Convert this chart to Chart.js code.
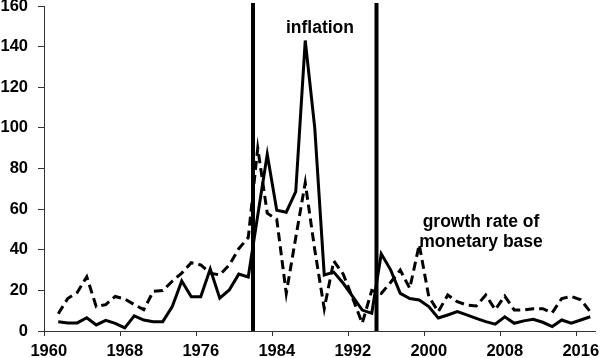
<!DOCTYPE html>
<html>
<head>
<meta charset="utf-8">
<script src="https://cdn.jsdelivr.net/npm/chart.js@4"></script>
<style>
  html, body { margin: 0; padding: 0; background: #fff; }
  canvas { display: block; }
</style>
</head>
<body>
<canvas id="chart" width="600" height="358"></canvas>
<script>
// ---------------------------------------------------------------------------
// Data (annual, %)
// ---------------------------------------------------------------------------
const years = [
  1961, 1962, 1963, 1964, 1965, 1966, 1967, 1968, 1969, 1970,
  1971, 1972, 1973, 1974, 1975, 1976, 1977, 1978, 1979, 1980,
  1981, 1982, 1983, 1984, 1985, 1986, 1987, 1988, 1989, 1990,
  1991, 1992, 1993, 1994, 1995, 1996, 1997, 1998, 1999, 2000,
  2001, 2002, 2003, 2004, 2005, 2006, 2007, 2008, 2009, 2010,
  2011, 2012, 2013, 2014, 2015, 2016, 2017
];

const inflation = [
  4.5, 4, 4, 6.5, 3, 5.2, 3.8, 1.5, 7.5, 5.4,
  4.6, 4.6, 12, 24.6, 16.9, 16.9, 30.5, 16.2, 20.2, 28,
  26.6, 57, 87, 59.5, 58.5, 68.6, 143, 100, 27.6, 29,
  23.5, 16.9, 10.3, 8.7, 38, 30, 18.5, 16, 15.3, 12,
  6.4, 7.9, 9.5, 7.9, 6.2, 4.6, 3.4, 7, 3.8, 5,
  5.8, 4.3, 2.2, 5.4, 3.8, 5.4, 7
];

const moneyBase = [
  8.5, 16, 19, 26.7, 12, 13, 17, 15.8, 13, 10.5,
  19.5, 19.9, 24.5, 28.5, 33.6, 32.5, 28.5, 27.6, 32.5, 40.5,
  46, 90, 58, 55, 18.5, 46, 73, 40, 11, 34.5,
  28, 16, 3.8, 20, 18.5, 24, 30, 21, 42.5, 17,
  9.5, 17.7, 14.4, 12.8, 12.3, 17.7, 10.5, 17.2, 10.3, 10.3,
  11, 11, 9, 16, 17, 15.4, 9.5
];

// regime breaks (start of year)
const breakYears = [1982, 1995];

const xTickYears = [1960, 1968, 1976, 1984, 1992, 2000, 2008, 2016];
const yTicks = [0, 20, 40, 60, 80, 100, 120, 140, 160];

// text labels placed in data coordinates
const notes = [
  { lines: ['inflation'], x: 1989.05, y: 146.7 },
  { lines: ['growth rate of', 'monetary base'], x: 2006.0, y: 51.2 }
];

// ---------------------------------------------------------------------------
const FONT = '"Liberation Sans", Arial, sans-serif';
const AXIS_COLOR = '#333333';

// each yearly value sits in the middle of its year
const toPoints = vals => years.map((yr, i) => ({ x: yr + 0.5, y: vals[i] }));

const breakSets = breakYears.map(yr => ({
  label: 'break ' + yr,
  data: [{ x: yr, y: 0 }, { x: yr, y: 161.5 }],
  borderColor: '#000',
  borderWidth: 4,
  pointRadius: 0,
  clip: false,
  order: 0
}));

const notesPlugin = {
  id: 'notes',
  afterDatasetsDraw(chart) {
    const { ctx, scales: { x, y } } = chart;
    ctx.save();
    ctx.font = 'bold 17.5px ' + FONT;
    ctx.fillStyle = '#000';
    ctx.textAlign = 'center';
    ctx.textBaseline = 'alphabetic';
    notes.forEach(n => {
      const px = x.getPixelForValue(n.x);
      const py = y.getPixelForValue(n.y);
      n.lines.forEach((t, i) => ctx.fillText(t, px, py + i * 20));
    });
    ctx.restore();
  }
};

const data = {
  datasets: [
    ...breakSets,
    {
      label: 'inflation',
      data: toPoints(inflation),
      borderColor: '#000',
      borderWidth: 3,
      pointRadius: 0,
      borderJoinStyle: 'miter',
      tension: 0,
      order: 1
    },
    {
      label: 'growth rate of monetary base',
      data: toPoints(moneyBase),
      borderColor: '#000',
      borderWidth: 3,
      borderDash: [9, 5],
      pointRadius: 0,
      borderJoinStyle: 'miter',
      tension: 0,
      order: 2
    }
  ]
};

const options = {
  responsive: false,
  animation: false,
  layout: { padding: { top: 6, right: 5, left: 0, bottom: 0 } },
  plugins: {
    legend: { display: false },
    tooltip: { enabled: false }
  },
  scales: {
    x: {
      type: 'linear',
      min: 1960,
      max: 2018,
      afterBuildTicks: axis => { axis.ticks = xTickYears.map(v => ({ value: v })); },
      afterFit: axis => {
        axis.height = 27;
        axis.paddingLeft = 0;
        axis.paddingRight = 0;
      },
      ticks: {
        autoSkip: false,
        maxRotation: 0,
        padding: 6,
        labelOffset: 4.75,
        color: '#000',
        font: { family: FONT, size: 16.5, weight: 'bold' },
        callback: v => String(v)
      },
      grid: { drawOnChartArea: false, color: AXIS_COLOR, tickLength: 5 },
      border: { display: true, color: AXIS_COLOR, width: 1 }
    },
    y: {
      min: 0,
      max: 160,
      afterBuildTicks: axis => { axis.ticks = yTicks.map(v => ({ value: v })); },
      afterFit: axis => {
        axis.width = 44;
        axis.paddingTop = 0;
        axis.paddingBottom = 0;
      },
      ticks: {
        padding: 10,
        color: '#000',
        font: { family: FONT, size: 16.5, weight: 'bold' }
      },
      grid: { drawOnChartArea: false, color: AXIS_COLOR, tickLength: 6 },
      border: { display: true, color: AXIS_COLOR, width: 1 }
    }
  }
};

new Chart(document.getElementById('chart').getContext('2d'), {
  type: 'line',
  data,
  options,
  plugins: [notesPlugin]
});
</script>
</body>
</html>
